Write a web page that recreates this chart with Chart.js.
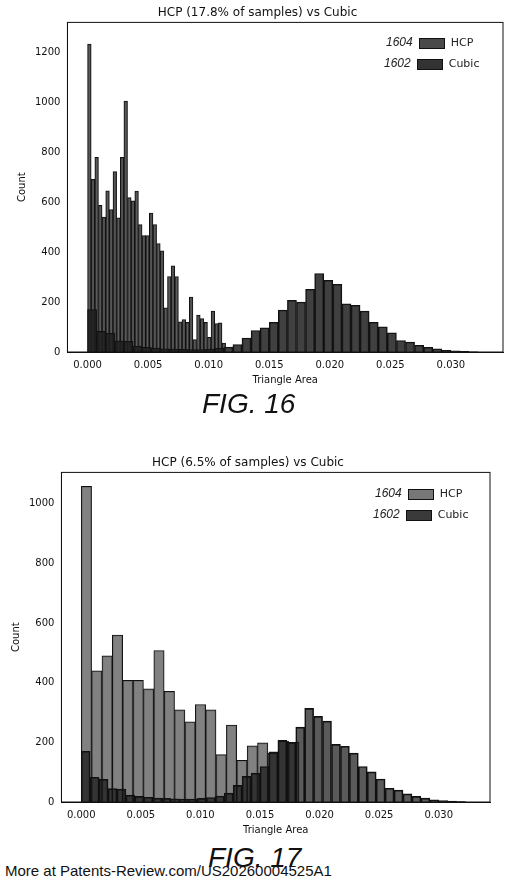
<!DOCTYPE html>
<html><head><meta charset="utf-8">
<script src="https://cdn.jsdelivr.net/npm/chart.js@4.4.0/dist/chart.umd.min.js"></script>
<style>
body{margin:0;background:#fff;width:509px;height:888px;position:relative;font-family:"DejaVu Sans",sans-serif;overflow:hidden}
.c{position:absolute;left:0}
.fig{position:absolute;font-family:"Liberation Sans",Arial,sans-serif;font-style:italic;font-size:28px;color:#111}
.leg{position:absolute;font-size:11px;color:#222;line-height:20px}
.leg i{font-family:"Liberation Sans",sans-serif;font-size:12px}
.box{display:inline-block;width:24px;height:9px;border:1px solid #111;vertical-align:middle;margin:0 6px}
.foot{position:absolute;left:5px;top:862px;font-family:"Liberation Sans",Arial,sans-serif;font-size:15px;color:#111}
</style></head><body>
<div class="c" style="top:0;width:509px;height:390px"><canvas id="c1"></canvas></div>
<div class="c" style="top:450px;width:509px;height:390px"><canvas id="c2"></canvas></div>
<div class="fig" style="left:202px;top:388px">FIG. 16</div>
<div class="fig" style="left:208px;top:842px">FIG. 17</div>
<div class="leg" style="left:386px;top:32px"><i>1604</i><span class="box" style="background:#4a4a4a"></span>HCP<br><i style="margin-left:-2px">1602</i><span class="box" style="background:#333"></span>Cubic</div>
<div class="leg" style="left:375px;top:483px"><i>1604</i><span class="box" style="background:#777"></span>HCP<br><i style="margin-left:-2px">1602</i><span class="box" style="background:#3a3a3a"></span>Cubic</div>
<div class="foot">More at Patents-Review.com/US20260004525A1</div>
<script>
const cubicBin = 0.00075;
const cubicCounts = [170,83,76,45,43,23,19,16,13,12,11,10,10,12,15,20,30,56,86,97,119,168,207,200,251,314,287,271,193,187,164,119,101,77,46,40,27,19,13,7,5,3,1];
const hcp16Bin = 0.0003;
const hcp16Counts = [1231,690,778,587,540,644,570,721,537,778,1003,617,604,643,510,466,466,556,510,434,405,177,302,345,302,121,130,119,220,50,148,134,119,59,164,114,117,36];
const hcp17Bin = 0.00087;
const hcp17Counts = [1058,440,490,560,408,408,379,508,371,309,269,327,309,159,258,140,188,198,164,204,200];
const xTicks = [0,0.005,0.010,0.015,0.020,0.025,0.030];
const yTicks16 = [0,200,400,600,800,1000,1200];
const yTicks17 = [0,200,400,600,800,1000];
const titles = ["HCP (17.8% of samples) vs Cubic","HCP (6.5% of samples) vs Cubic"];

class Bar2 extends Chart.BarController {}
Bar2.id = 'bar2';
Bar2.defaults = Chart.BarController.defaults;
Bar2.overrides = Chart.BarController.overrides;
Chart.register(Bar2);

function pts(counts,bin){return counts.map((v,i)=>({x:(i+0.5)*bin,y:v}));}
function make(id,title,hcpCounts,hcpBin,hcpColor,cubColor,ymax,yTicks,pad){
  const tickFont={family:"DejaVu Sans",size:10};
  new Chart(document.getElementById(id),{
    type:'bar',
    data:{datasets:[
      {label:'HCP',type:'bar',data:pts(hcpCounts,hcpBin),xAxisID:'x',backgroundColor:hcpColor,borderColor:'#111',borderWidth:1,barPercentage:1,categoryPercentage:1,grouped:false,order:1},
      {label:'Cubic',type:'bar2',data:pts(cubicCounts,cubicBin),xAxisID:'x2',yAxisID:'y',backgroundColor:cubColor,borderColor:'#111',borderWidth:1,barPercentage:1,categoryPercentage:1,grouped:false,order:0}
    ]},
    options:{
      responsive:true,maintainAspectRatio:false,animation:false,
      layout:{padding:pad},
      plugins:{legend:{display:false},tooltip:{enabled:false},
        title:{display:true,text:title,color:'#111',font:{family:"DejaVu Sans",size:12,weight:'normal'},padding:{top:0,bottom:2}}},
      scales:{
        x:{type:'linear',offset:false,min:-0.00166,max:0.0343,
          afterBuildTicks:s=>{s.ticks=xTicks.map(v=>({value:v}));},
          ticks:{color:'#111',font:tickFont,callback:v=>v.toFixed(3),maxRotation:0},
          grid:{display:false,offset:false,tickLength:4,tickColor:'#111'},
          border:{color:'#111'},
          title:{display:true,text:'Triangle Area',color:'#111',font:tickFont,padding:{top:0}}},
        x2:{type:'linear',offset:false,min:-0.00166,max:0.0343,display:false},
        y:{type:'linear',min:0,max:ymax,
          afterBuildTicks:s=>{s.ticks=yTicks.map(v=>({value:v}));},
          ticks:{color:'#111',font:tickFont,callback:v=>String(v)},
          grid:{display:false,tickLength:4,tickColor:'#111'},
          border:{color:'#111'},
          title:{display:true,text:'Count',color:'#111',font:tickFont}}
      }
    },
    plugins:[{id:'frame',afterDraw(c){const a=c.chartArea,x=c.ctx;x.save();x.strokeStyle='#111';x.lineWidth=1;x.strokeRect(a.left,a.top,a.right-a.left,a.bottom-a.top);x.restore();}}]
  });
}
make('c1',titles[0],hcp16Counts,hcp16Bin,'rgba(75,75,75,0.9)','rgba(30,30,30,0.85)',1318,yTicks16,{left:12,right:6,top:6,bottom:0});
make('c2',titles[1],hcp17Counts,hcp17Bin,'rgba(115,115,115,0.9)','rgba(20,20,20,0.7)',1105,yTicks17,{left:6,right:19,top:6,bottom:0});
</script>
</body></html>
